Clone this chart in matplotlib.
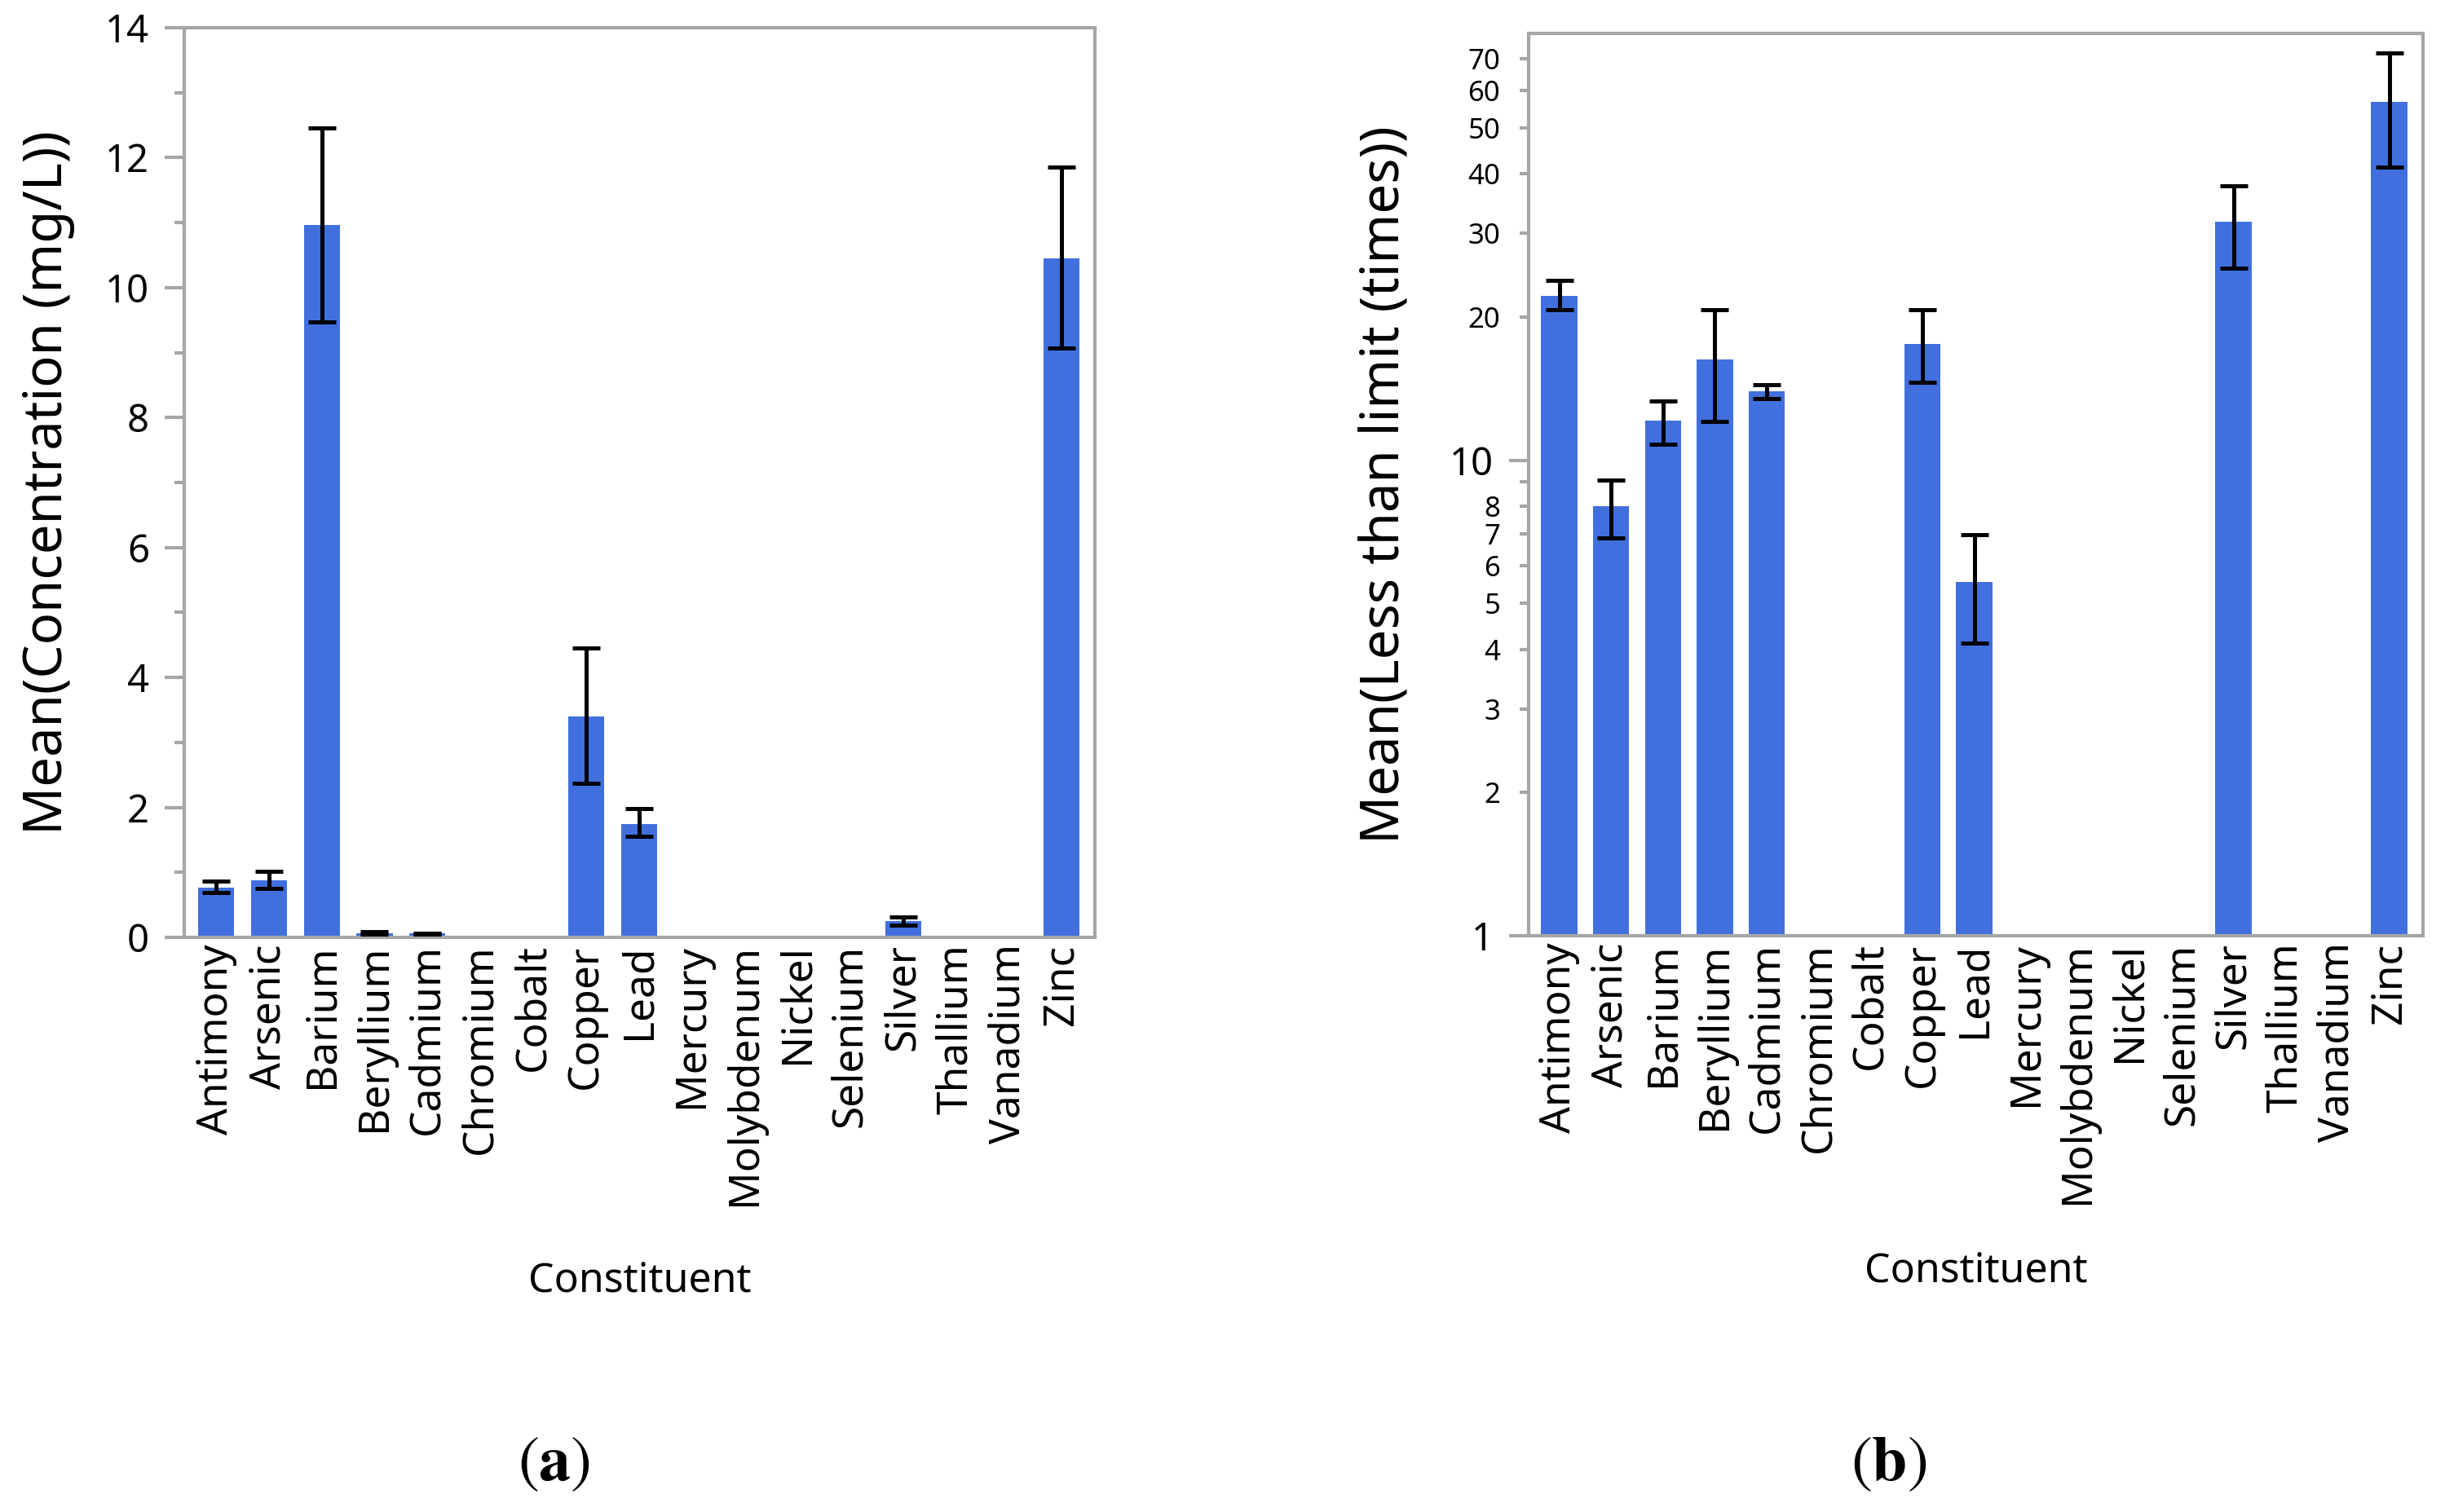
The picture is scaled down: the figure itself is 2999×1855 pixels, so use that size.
import numpy as np
import matplotlib
matplotlib.use('Agg')
import matplotlib.pyplot as plt

plt.rcParams['font.family'] = ['Noto Sans', 'DejaVu Sans']
plt.rcParams['mathtext.fontset'] = 'stix'

nan = np.nan
constituents = ['Antimony', 'Arsenic', 'Barium', 'Beryllium', 'Cadmium', 'Chromium',
                'Cobalt', 'Copper', 'Lead', 'Mercury', 'Molybdenum', 'Nickel',
                'Selenium', 'Silver', 'Thallium', 'Vanadium', 'Zinc']

# (a) mean concentration, mg/L, with error bar ends
conc_mean = [0.77, 0.885, 10.96, 0.07, 0.06, nan, nan, 3.40, 1.75, nan, nan, nan, nan, 0.25, nan, nan, 10.45]
conc_lo = [0.69, 0.75, 9.47, 0.05, 0.05, nan, nan, 2.375, 1.56, nan, nan, nan, nan, 0.19, nan, nan, 9.07]
conc_hi = [0.87, 1.02, 12.46, 0.09, 0.07, nan, nan, 4.45, 1.98, nan, nan, nan, nan, 0.31, nan, nan, 11.86]

# (b) mean times less than limit (log axis)
lim_mean = [22.2, 8.0, 12.13, 16.31, 13.98, nan, nan, 17.58, 5.55, nan, nan, nan, nan, 31.8, nan, nan, 56.7]
lim_lo = [20.7, 6.86, 10.82, 12.06, 13.49, nan, nan, 14.58, 4.13, nan, nan, nan, nan, 25.3, nan, nan, 41.3]
lim_hi = [23.85, 9.1, 13.32, 20.7, 14.41, nan, nan, 20.7, 6.96, nan, nan, nan, nan, 37.7, nan, nan, 71.8]

bar_color = '#4170de'
frame_color = '#a6a6a6'

fig = plt.figure(figsize=(29.99, 18.55), dpi=100)
ax1 = fig.add_axes([0.0754, 0.380, 0.3724, 0.6017])
ax2 = fig.add_axes([0.6252, 0.3811, 0.3658, 0.5968])


def draw(ax, mean, lo, hi, width):
    x = np.arange(len(constituents))
    mean = np.array(mean)
    err = [mean - np.array(lo), np.array(hi) - mean]
    ax.bar(x, mean, width=width, color=bar_color, zorder=2)
    ax.errorbar(x, mean, yerr=err, fmt='none', ecolor='black', elinewidth=3.6,
                capsize=12.5, capthick=3.6, zorder=3)
    ax.set_xticks(x)
    ax.set_xticklabels(constituents, rotation=90, fontsize=37)
    ax.tick_params(axis='x', length=0, pad=6)
    for s in ax.spines.values():
        s.set_color(frame_color)
        s.set_linewidth(3)
    ax.tick_params(axis='y', which='both', color=frame_color, width=3, pad=14)
    ax.set_xlabel('Constituent', fontsize=36)


draw(ax1, conc_mean, conc_lo, conc_hi, 0.68)
ax1.set_xlim(-0.6, 16.63)
ax1.set_ylim(0, 14)
ax1.set_yticks(range(0, 15, 2))
ax1.set_yticks(range(1, 14, 2), minor=True)
ax1.tick_params(axis='y', which='major', length=17, labelsize=34)
ax1.tick_params(axis='y', which='minor', length=9)
ax1.set_ylabel('Mean(Concentration (mg/L))', fontsize=47)
ax1.yaxis.set_label_coords(-0.12, 0.5)
ax1.xaxis.set_label_coords(0.5, -0.355)

draw(ax2, lim_mean, lim_lo, lim_hi, 0.70)
ax2.set_yscale('log')
ax2.set_xlim(-0.59, 16.65)
ax2.set_ylim(1, 79)
ax2.set_yticks([1, 10])
ax2.set_yticklabels(['1', '10'])
minor = [2, 3, 4, 5, 6, 7, 8, 9, 20, 30, 40, 50, 60, 70]
ax2.set_yticks(minor, minor=True)
ax2.set_yticklabels(['' if m == 9 else str(m) for m in minor], minor=True)
ax2.tick_params(axis='y', which='major', length=17, labelsize=34)
ax2.tick_params(axis='y', which='minor', length=8, labelsize=25, pad=17)
ax2.set_ylabel('Mean(Less than limit (times))', fontsize=47)
ax2.yaxis.set_label_coords(-0.131, 0.5)
ax2.xaxis.set_label_coords(0.5, -0.349)

fig.text(0.2264, 0.031, r'($\mathbf{a}$)', fontsize=56, family='STIXGeneral', ha='center', va='center')
fig.text(0.7723, 0.031, r'($\mathbf{b}$)', fontsize=56, family='STIXGeneral', ha='center', va='center')

fig.savefig('out.png', dpi=100, facecolor='white')
